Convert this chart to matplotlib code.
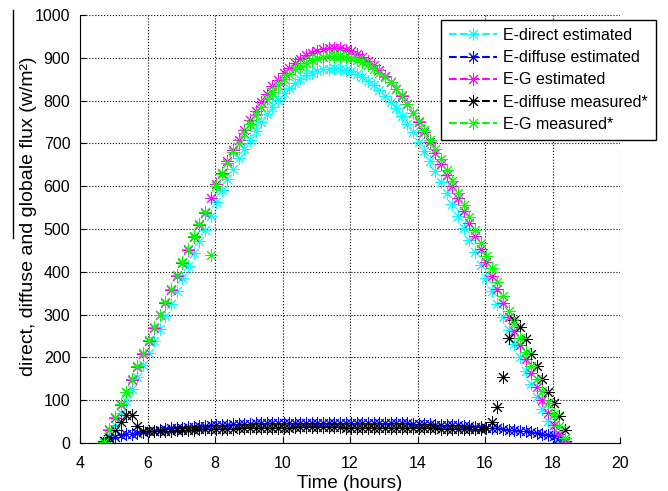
import matplotlib
matplotlib.use("Agg")
import matplotlib.pyplot as plt
from matplotlib.lines import Line2D

plt.rcParams["font.family"] = ["Liberation Sans", "DejaVu Sans"]

# time of day (hours), 10 minute steps
time_h = [4.70, 4.87, 5.03, 5.20, 5.37, 5.53, 5.70, 5.87, 6.03, 6.20,
          6.37, 6.53, 6.70, 6.87, 7.03, 7.20, 7.37, 7.53, 7.70, 7.87,
          8.03, 8.20, 8.37, 8.53, 8.70, 8.87, 9.03, 9.20, 9.37, 9.53,
          9.70, 9.87, 10.03, 10.20, 10.37, 10.53, 10.70, 10.87, 11.03, 11.20,
          11.37, 11.53, 11.70, 11.87, 12.03, 12.20, 12.37, 12.53, 12.70, 12.87,
          13.03, 13.20, 13.37, 13.53, 13.70, 13.87, 14.03, 14.20, 14.37, 14.53,
          14.70, 14.87, 15.03, 15.20, 15.37, 15.53, 15.70, 15.87, 16.03, 16.20,
          16.37, 16.53, 16.70, 16.87, 17.03, 17.20, 17.37, 17.53, 17.70, 17.87,
          18.03, 18.20, 18.37]

direct_est = [0, 18, 43, 70, 98, 126, 154, 182, 210, 239,
              267, 296, 324, 355, 385, 414, 443, 471, 498, 531,
              562, 590, 616, 641, 665, 687, 709, 729, 750, 769,
              786, 802, 817, 830, 841, 851, 859, 865, 870, 873,
              875, 876, 875, 872, 868, 862, 855, 846, 836, 824,
              811, 797, 782, 764, 745, 726, 704, 683, 659, 635,
              610, 585, 559, 531, 503, 475, 446, 416, 386, 356,
              325, 294, 263, 232, 201, 169, 139, 108, 79, 51,
              27, 8, 0]

diffuse_est = [5, 12, 15, 18, 20, 22, 24, 26, 28, 29,
               31, 32, 34, 35, 36, 37, 38, 39, 40, 41,
               42, 42, 43, 44, 44, 45, 45, 46, 46, 46,
               47, 47, 47, 47, 47, 47, 47, 47, 47, 47,
               47, 47, 47, 47, 47, 47, 47, 47, 47, 47,
               47, 47, 46, 46, 46, 45, 45, 44, 44, 43,
               43, 42, 41, 41, 40, 39, 38, 37, 36, 35,
               34, 33, 31, 30, 28, 27, 25, 23, 21, 19,
               16, 12, 5]

global_est = [5, 30, 58, 88, 118, 148, 178, 208, 238, 268,
              298, 328, 358, 390, 421, 451, 481, 510, 538, 572,
              604, 632, 659, 685, 709, 732, 754, 775, 796, 815,
              833, 849, 864, 877, 888, 898, 906, 912, 917, 920,
              922, 923, 922, 919, 915, 909, 902, 893, 883, 871,
              858, 844, 828, 810, 791, 771, 749, 727, 703, 678,
              653, 627, 600, 572, 543, 514, 484, 453, 422, 391,
              359, 327, 294, 262, 229, 196, 164, 131, 100, 70,
              43, 20, 3]

diffuse_meas = [5, 15, 30, 48, 65, 65, 40, 28, 27, 27,
                28, 29, 29, 30, 31, 31, 31, 32, 32, 32,
                33, 33, 33, 33, 34, 34, 34, 34, 35, 35,
                35, 35, 36, 36, 37, 37, 38, 38, 38, 38,
                38, 37, 37, 36, 36, 36, 35, 35, 35, 35,
                35, 35, 35, 34, 34, 34, 34, 34, 34, 34,
                33, 33, 33, 33, 33, 33, 33, 33, 35, 50,
                84, 154, 245, 288, 272, 243, 209, 179, 149, 120,
                94, 62, 30]

global_meas = [3, 32, 60, 90, 120, 150, 180, 210, 240, 270,
               300, 330, 360, 392, 424, 453, 483, 512, 540, 440,
               600, 628, 654, 679, 702, 724, 745, 766, 786, 804,
               821, 837, 850, 862, 873, 882, 889, 895, 899, 902,
               904, 905, 904, 902, 899, 895, 890, 883, 874, 865,
               855, 843, 828, 812, 793, 772, 752, 731, 709, 687,
               663, 639, 613, 585, 557, 528, 498, 468, 438, 408,
               376, 343, 309, 280, 246, 213, 180, 150, 122, 94,
               67, 40, 12]

labels = ["E-direct estimated", "E-diffuse estimated", "E-G estimated",
          "E-diffuse measured*", "E-G measured*"]
colors = ["#00FFFF", "#0000FF", "#FF00FF", "#000000", "#00FF00"]
series = [direct_est, diffuse_est, global_est, diffuse_meas, global_meas]

fig = plt.figure(figsize=(6.68, 4.91), dpi=100)
ax = fig.add_axes([80 / 668, 1 - 443 / 491, 540 / 668, 428 / 491])

star = (8, 2, 0)
for vals, col in zip(series, colors):
    ax.plot(time_h, vals, linestyle="none", marker=star, markersize=9,
            markeredgewidth=0.7, color=col)

ax.set_xlim(4, 20)
ax.set_ylim(0, 1000)
ax.set_xticks(range(4, 21, 2))
ax.set_yticks(range(0, 1001, 100))
ax.grid(True, linestyle=":", color="black", linewidth=0.8)
ax.tick_params(direction="in", length=4, labelsize=11.5, colors="black")
ax.tick_params(axis="x", pad=9)
ax.tick_params(axis="y", pad=7)
ax.spines["top"].set_visible(False)
ax.spines["right"].set_visible(False)
ax.set_xlabel("Time (hours)", fontsize=13.5, labelpad=3)
ax.set_ylabel("direct, diffuse and globale flux (w/m²)", fontsize=14)
ax.yaxis.set_label_coords(-0.079, 0.53)

handles = [Line2D([0], [0], color=c, linestyle="--", marker=star,
                  markersize=9, markeredgewidth=0.7) for c in colors]
leg = ax.legend(handles, labels, loc="upper left",
                bbox_to_anchor=(441 / 668, 1 - 20 / 491),
                bbox_transform=fig.transFigure, fontsize=11.5,
                frameon=True, fancybox=False, framealpha=1,
                edgecolor="black", borderpad=0.5, labelspacing=0.45,
                handlelength=3.0, handletextpad=0.4, borderaxespad=0)
leg.get_frame().set_linewidth(1.0)

# stray line over the y label in the original
fig.add_artist(Line2D([13 / 668, 13 / 668], [1 - 10 / 491, 1 - 238 / 491],
                      transform=fig.transFigure, color="black", linewidth=1))

fig.savefig("out.png", dpi=100)
